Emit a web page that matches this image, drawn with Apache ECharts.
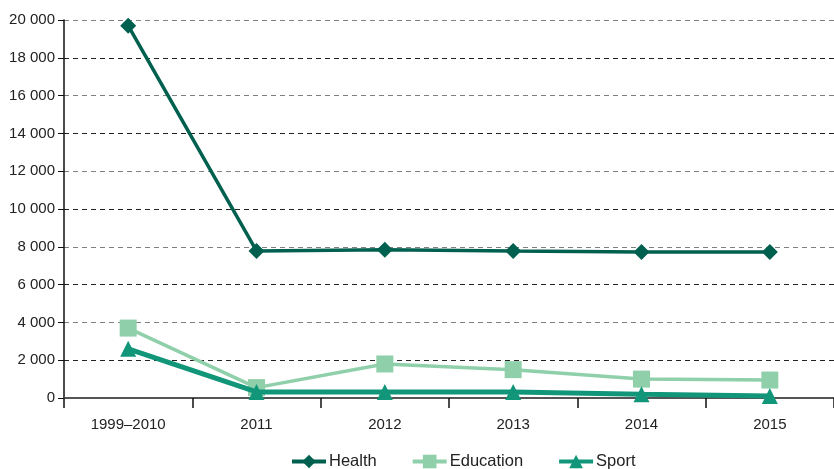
<!DOCTYPE html>
<html>
<head>
<meta charset="utf-8">
<script src="https://cdn.jsdelivr.net/npm/echarts@6/dist/echarts.min.js"></script>
<style>
  html, body { margin: 0; padding: 0; background: #fff; }
  #chart { width: 834px; height: 469px; }
</style>
</head>
<body>
<div id="chart"></div>
<script>
// data
const categories = ['1999–2010', '2011', '2012', '2013', '2014', '2015']
const health = [19700, 7780, 7850, 7780, 7730, 7730]
const education = [3700, 550, 1800, 1500, 1000, 950]
const sport = [2600, 320, 320, 320, 200, 100]
const yTicks = { min: 0, max: 20000, interval: 2000 }

const fmt = v => v >= 1000 ? Math.floor(v / 1000) + ' ' + String(v % 1000).padStart(3, '0') : String(v)

const chart = echarts.init(document.getElementById('chart'))
chart.setOption({
  animation: false,
  textStyle: { fontFamily: 'Liberation Sans, Arial, sans-serif' },
  grid: { left: 64, top: 20, width: 773, bottom: 71, containLabel: false },
  legend: {
    bottom: -6,
    left: 285,
    itemWidth: 34,
    itemHeight: 17,
    itemGap: 34,
    lineStyle: { width: 4 },
    textStyle: { fontSize: 16.5, color: '#222', padding: [0, 0, 0, -2] },
    data: ['Health', 'Education', 'Sport']
  },
  xAxis: {
    type: 'category',
    data: categories,
    boundaryGap: true,
    axisLine: { lineStyle: { color: '#555', width: 2 } },
    axisTick: { show: true, length: 10, lineStyle: { color: '#111', width: 1.5 } },
    axisLabel: { color: '#222', fontSize: 15, margin: 19 }
  },
  yAxis: {
    type: 'value',
    min: yTicks.min,
    max: yTicks.max,
    interval: yTicks.interval,
    axisLine: { show: true, lineStyle: { color: '#111', width: 1.5 } },
    axisTick: { show: true, length: 6, lineStyle: { color: '#111' } },
    axisLabel: { color: '#222', fontSize: 15, margin: 9, formatter: fmt },
    splitLine: {
      show: true,
      lineStyle: { color: ['#808080', '#222'], type: [5, 4], width: 1 }
    }
  },
  series: [
    {
      name: 'Health',
      type: 'line',
      data: health,
      color: '#00604f',
      symbol: 'diamond',
      symbolSize: 16,
      lineStyle: { width: 3.5 },
      z: 3
    },
    {
      name: 'Education',
      type: 'line',
      data: education,
      color: '#8fd0aa',
      symbol: 'rect',
      symbolSize: 17,
      lineStyle: { width: 3.5 },
      z: 2
    },
    {
      name: 'Sport',
      type: 'line',
      data: sport,
      color: '#12967a',
      symbol: 'triangle',
      symbolSize: 16,
      lineStyle: { width: 5 },
      z: 4
    }
  ]
})
</script>
</body>
</html>
